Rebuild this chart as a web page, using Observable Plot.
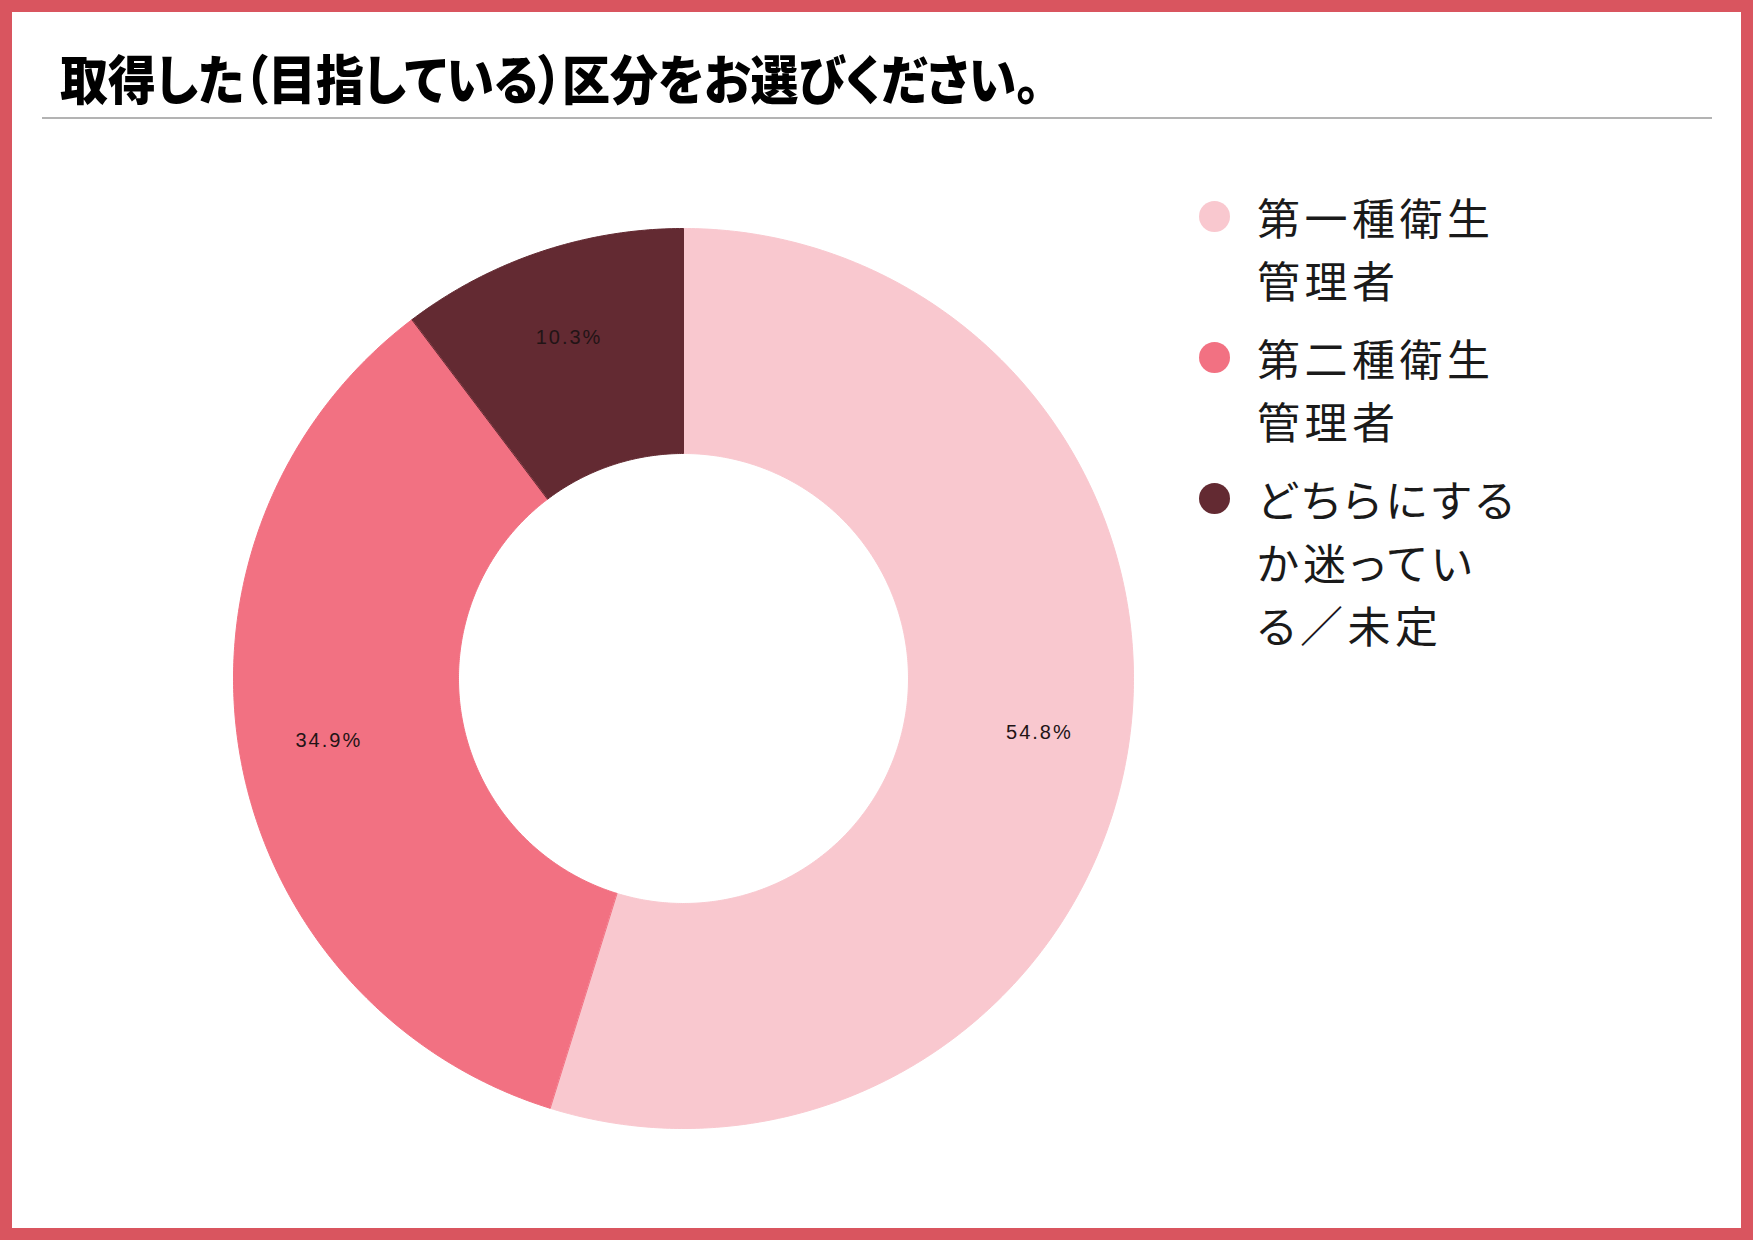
<!DOCTYPE html>
<html lang="ja">
<head>
<meta charset="utf-8">
<script src="https://cdn.jsdelivr.net/npm/d3@7"></script>
<script src="https://cdn.jsdelivr.net/npm/@observablehq/plot@0.6"></script>
<style>
  html, body { margin: 0; padding: 0; background: #ffffff; }
  #page { position: relative; width: 1753px; height: 1240px; overflow: hidden; background: #fff; }
  #frame { position: absolute; left: 0; top: 0; width: 1753px; height: 1240px; box-sizing: border-box; border: 12px solid #d9555f; pointer-events: none; }
  #title { position: absolute; left: 60px; top: 42px; font-family: "Noto Sans CJK JP", sans-serif; font-weight: 900; font-size: 53px; line-height: 70px; color: #000; white-space: nowrap; transform-origin: 0 50%; font-feature-settings: "palt"; }
  #rule { position: absolute; left: 42px; top: 117px; width: 1670px; height: 2px; background: #b3b3b3; }
  #chart { position: absolute; left: 203px; top: 198px; }
  #legend { position: absolute; left: 1199px; top: 185px; display: flex; flex-direction: column; gap: 15px; font-family: "Noto Sans CJK JP", sans-serif; font-size: 43px; color: #1a1a1a; }
  .item { display: flex; align-items: flex-start; }
  .sw { width: 31px; height: 31px; border-radius: 50%; margin-top: 16px; margin-right: 27px; flex: none; }
  .txt { line-height: 63px; letter-spacing: 4.5px; font-feature-settings: "palt"; }
</style>
</head>
<body>
<div id="page">
  <div id="title"></div>
  <div id="rule"></div>
  <div id="chart"></div>
  <div id="legend"></div>
  <div id="frame"></div>
</div>
<script>
// ---- data ----
const titleText = "取得した（目指している）区分をお選びください。";
const categories = ["第一種衛生管理者", "第二種衛生管理者", "どちらにするか迷っている／未定"];
const legendLines = [["第一種衛生", "管理者"], ["第二種衛生", "管理者"], ["どちらにする", "か迷ってい", "る／未定"]];
const values = [54.8, 34.9, 10.3];
const colors = ["#f9c8cf", "#f27182", "#632a32"];

// ---- title ----
const titleEl = document.getElementById("title");
titleEl.textContent = titleText;
const targetTitleWidth = 980;
const fitTitle = () => {
  titleEl.style.transform = "none";
  const w = titleEl.getBoundingClientRect().width;
  if (w > 0) titleEl.style.transform = `scaleX(${targetTitleWidth / w})`;
};
fitTitle();
if (document.fonts && document.fonts.ready) document.fonts.ready.then(fitTitle);

// ---- donut geometry from data ----
const rows = categories.map((c, i) => ({key: c, value: values[i]}));
const arcs = d3.pie().sort(null).value(d => d.value)(rows);
const outerR = 1, innerR = 0.5, labelR = 0.8;
const points = [];
for (const a of arcs) {
  const n = Math.max(2, Math.ceil((a.endAngle - a.startAngle) / (Math.PI / 360)));
  for (let k = 0; k <= n; k++) {
    const t = a.startAngle + (a.endAngle - a.startAngle) * k / n;
    points.push({key: a.data.key, x: outerR * Math.sin(t), y: outerR * Math.cos(t)});
  }
  for (let k = n; k >= 0; k--) {
    const t = a.startAngle + (a.endAngle - a.startAngle) * k / n;
    points.push({key: a.data.key, x: innerR * Math.sin(t), y: innerR * Math.cos(t)});
  }
}
const labelRows = arcs.map(a => {
  const m = (a.startAngle + a.endAngle) / 2;
  return {x: labelR * Math.sin(m), y: labelR * Math.cos(m), text: a.data.value.toFixed(1) + "%"};
});

const ext = 480 / 450;
const chart = Plot.plot({
  width: 960,
  height: 960,
  margin: 0,
  x: {domain: [-ext, ext], axis: null},
  y: {domain: [-ext, ext], axis: null},
  color: {domain: categories, range: colors},
  style: {background: "transparent", letterSpacing: "2px"},
  marks: [
    Plot.line(points, {x: "x", y: "y", z: "key", fill: "key", stroke: "key", strokeWidth: 1, curve: "linear-closed"}),
    Plot.text(labelRows, {x: "x", y: "y", text: "text", fill: "#221416", fontSize: 20, fontFamily: "Liberation Sans, sans-serif"})
  ]
});
document.getElementById("chart").appendChild(chart);

// ---- legend ----
const legend = document.getElementById("legend");
categories.forEach((c, i) => {
  const item = document.createElement("div");
  item.className = "item";
  const sw = document.createElement("div");
  sw.className = "sw";
  sw.style.background = colors[i];
  const txt = document.createElement("div");
  txt.className = "txt";
  txt.innerHTML = legendLines[i].join("<br>");
  item.appendChild(sw);
  item.appendChild(txt);
  legend.appendChild(item);
});
</script>
</body>
</html>
